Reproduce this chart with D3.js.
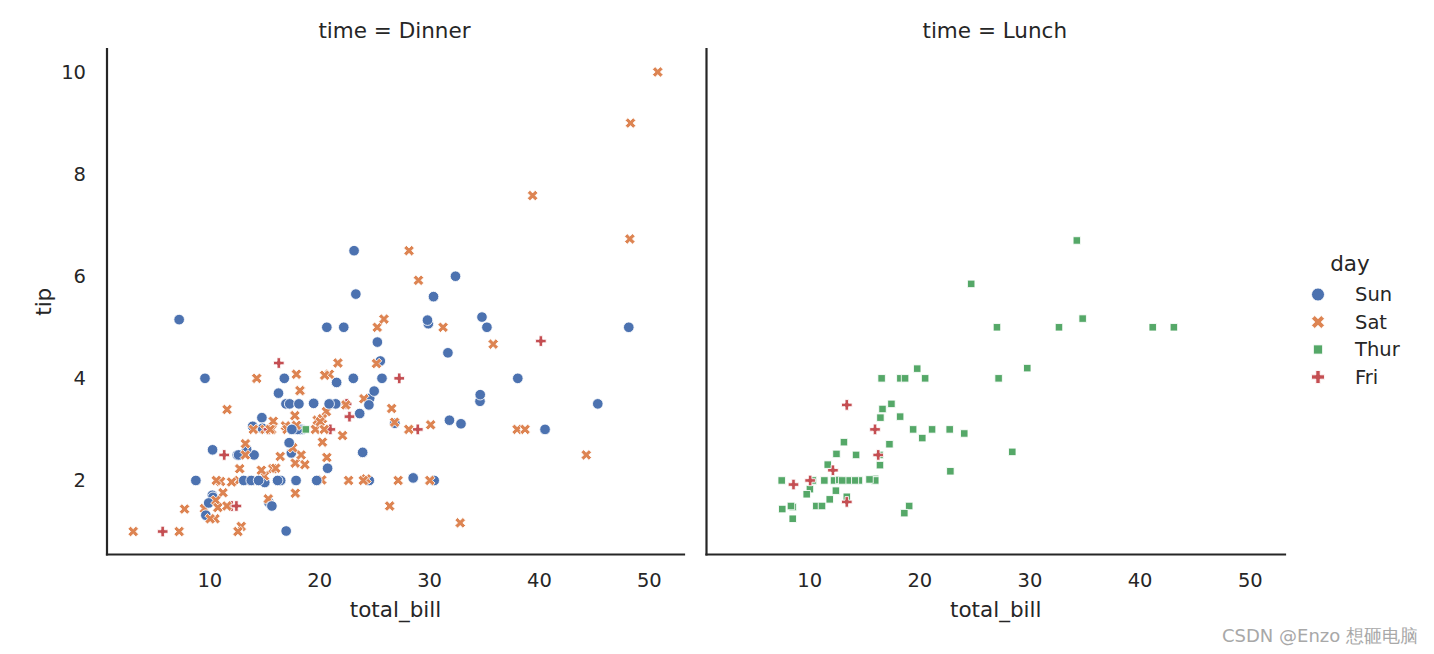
<!DOCTYPE html>
<html>
<head>
<meta charset="utf-8">
<script src="https://cdn.jsdelivr.net/npm/d3@7"></script>
<style>
  html, body { margin: 0; padding: 0; background: #fff; }
  svg { display: block; }
  text { font-family: "DejaVu Sans", sans-serif; fill: #262626; }
</style>
</head>
<body>
<script>
// ---------------- DATA (seaborn "tips": total_bill, tip, day) ----------------
const dayOrder = ["Sun", "Sat", "Thur", "Fri"];
const dayColors = ["#4c72b0", "#dd8452", "#55a868", "#c44e52"];
const dayMarkers = ["circle", "x", "square", "plus"];
const panelTimes = ["Dinner", "Lunch"];
const xTicks = [10, 20, 30, 40, 50];
const yTicks = [2, 4, 6, 8, 10];

const dinnerRows = [
  [16.99,1.01,"Sun"],[10.34,1.66,"Sun"],[21.01,3.5,"Sun"],[23.68,3.31,"Sun"],[24.59,3.61,"Sun"],
  [25.29,4.71,"Sun"],[8.77,2.0,"Sun"],[26.88,3.12,"Sun"],[15.04,1.96,"Sun"],[14.78,3.23,"Sun"],
  [10.27,1.71,"Sun"],[35.26,5.0,"Sun"],[15.42,1.57,"Sun"],[18.43,3.0,"Sun"],[14.83,3.02,"Sun"],
  [21.58,3.92,"Sun"],[10.33,1.67,"Sun"],[16.29,3.71,"Sun"],[16.97,3.5,"Sun"],
  [20.65,3.35,"Sat"],[17.92,4.08,"Sat"],[20.29,2.75,"Sat"],[15.77,2.23,"Sat"],[39.42,7.58,"Sat"],
  [19.82,3.18,"Sat"],[17.81,2.34,"Sat"],[13.37,2.0,"Sat"],[12.69,2.0,"Sat"],[21.7,4.3,"Sat"],
  [19.65,3.0,"Sat"],[9.55,1.45,"Sat"],[18.35,2.5,"Sat"],[15.06,3.0,"Sat"],[20.69,2.45,"Sat"],
  [17.78,3.27,"Sat"],[24.06,3.6,"Sat"],[16.31,2.0,"Sat"],[16.93,3.07,"Sat"],[18.69,2.31,"Sat"],
  [31.27,5.0,"Sat"],[16.04,2.24,"Sat"],
  [17.46,2.54,"Sun"],[13.94,3.06,"Sun"],[9.68,1.32,"Sun"],[30.4,5.6,"Sun"],[18.29,3.0,"Sun"],
  [22.23,5.0,"Sun"],[32.4,6.0,"Sun"],[28.55,2.05,"Sun"],[18.04,3.0,"Sun"],[12.54,2.5,"Sun"],
  [10.29,2.6,"Sun"],[34.81,5.2,"Sun"],[9.94,1.56,"Sun"],[25.56,4.34,"Sun"],[19.49,3.51,"Sun"],
  [38.01,3.0,"Sat"],[26.41,1.5,"Sat"],[11.24,1.76,"Sat"],[48.27,6.73,"Sat"],[20.29,3.21,"Sat"],
  [13.81,2.0,"Sat"],[11.02,1.98,"Sat"],[18.29,3.76,"Sat"],[17.59,2.64,"Sat"],[20.08,3.15,"Sat"],
  [16.45,2.47,"Sat"],[3.07,1.0,"Sat"],[20.23,2.01,"Sat"],[15.01,2.09,"Sat"],[12.02,1.97,"Sat"],
  [17.07,3.0,"Sat"],[26.86,3.14,"Sat"],[25.28,5.0,"Sat"],[14.73,2.2,"Sat"],[10.51,1.25,"Sat"],
  [17.92,3.08,"Sat"],
  [28.97,3.0,"Fri"],[22.49,3.5,"Fri"],[5.75,1.0,"Fri"],[16.32,4.3,"Fri"],[22.75,3.25,"Fri"],
  [40.17,4.73,"Fri"],[27.28,4.0,"Fri"],[12.03,1.5,"Fri"],[21.01,3.0,"Fri"],[12.46,1.5,"Fri"],
  [11.35,2.5,"Fri"],[15.38,3.0,"Fri"],
  [44.3,2.5,"Sat"],[22.42,3.48,"Sat"],[20.92,4.08,"Sat"],[15.36,1.64,"Sat"],[20.49,4.06,"Sat"],
  [25.21,4.29,"Sat"],[18.24,3.76,"Sat"],[14.31,4.0,"Sat"],[14.0,3.0,"Sat"],[7.25,1.0,"Sat"],
  [38.07,4.0,"Sun"],[23.95,2.55,"Sun"],[25.71,4.0,"Sun"],[17.31,3.5,"Sun"],[29.93,5.07,"Sun"],
  [14.07,2.5,"Sun"],[13.13,2.0,"Sun"],[17.26,2.74,"Sun"],[24.55,2.0,"Sun"],[19.77,2.0,"Sun"],
  [29.85,5.14,"Sun"],[48.17,5.0,"Sun"],[25.0,3.75,"Sun"],[13.39,2.61,"Sun"],[16.49,2.0,"Sun"],
  [21.5,3.5,"Sun"],[12.66,2.5,"Sun"],[16.21,2.0,"Sun"],[13.81,2.0,"Sun"],[17.51,3.0,"Sun"],
  [24.52,3.48,"Sun"],[20.76,2.24,"Sun"],[31.71,4.5,"Sun"],
  [10.59,1.61,"Sat"],[10.63,2.0,"Sat"],[50.81,10.0,"Sat"],[15.81,3.16,"Sat"],
  [7.25,5.15,"Sun"],[31.85,3.18,"Sun"],[16.82,4.0,"Sun"],[32.9,3.11,"Sun"],[17.89,2.0,"Sun"],
  [14.48,2.0,"Sun"],[9.6,4.0,"Sun"],[34.63,3.55,"Sun"],[34.65,3.68,"Sun"],[23.33,5.65,"Sun"],
  [45.35,3.5,"Sun"],[23.17,6.5,"Sun"],[40.55,3.0,"Sun"],[20.69,5.0,"Sun"],[20.9,3.5,"Sun"],
  [30.46,2.0,"Sun"],[18.15,3.5,"Sun"],[23.1,4.0,"Sun"],[15.69,1.5,"Sun"],
  [26.59,3.41,"Sat"],[38.73,3.0,"Sat"],[24.27,2.03,"Sat"],[12.76,2.23,"Sat"],[30.06,2.0,"Sat"],
  [25.89,5.16,"Sat"],[48.33,9.0,"Sat"],[13.27,2.5,"Sat"],[28.17,6.5,"Sat"],[12.9,1.1,"Sat"],
  [28.15,3.0,"Sat"],[11.59,1.5,"Sat"],[7.74,1.44,"Sat"],[30.14,3.09,"Sat"],
  [20.45,3.0,"Sat"],[13.28,2.72,"Sat"],[22.12,2.88,"Sat"],[24.01,2.0,"Sat"],[15.69,3.0,"Sat"],
  [11.61,3.39,"Sat"],[10.77,1.47,"Sat"],[15.53,3.0,"Sat"],[10.07,1.25,"Sat"],[12.6,1.0,"Sat"],
  [32.83,1.17,"Sat"],[35.83,4.67,"Sat"],[29.03,5.92,"Sat"],[27.18,2.0,"Sat"],[22.67,2.0,"Sat"],
  [17.82,1.75,"Sat"],
  [18.78,3.0,"Thur"]
];

const lunchRows = [
  [27.2,4.0,"Thur"],[22.76,3.0,"Thur"],[17.29,2.71,"Thur"],[19.44,3.0,"Thur"],[16.66,3.4,"Thur"],
  [10.07,1.83,"Thur"],[32.68,5.0,"Thur"],[15.98,2.03,"Thur"],[34.83,5.17,"Thur"],[13.03,2.0,"Thur"],
  [18.28,4.0,"Thur"],[24.71,5.85,"Thur"],[21.16,3.0,"Thur"],
  [10.65,1.5,"Thur"],[12.43,1.8,"Thur"],[24.08,2.92,"Thur"],[11.69,2.31,"Thur"],[13.42,1.68,"Thur"],
  [14.26,2.5,"Thur"],[15.95,2.0,"Thur"],[12.48,2.52,"Thur"],[29.8,4.2,"Thur"],[8.52,1.48,"Thur"],
  [14.52,2.0,"Thur"],[11.38,2.0,"Thur"],[22.82,2.18,"Thur"],[19.08,1.5,"Thur"],[20.27,2.83,"Thur"],
  [11.17,1.5,"Thur"],[12.26,2.0,"Thur"],[18.26,3.25,"Thur"],[8.51,1.25,"Thur"],[10.33,2.0,"Thur"],
  [14.15,2.0,"Thur"],[16.0,2.0,"Thur"],[13.16,2.75,"Thur"],[17.47,3.5,"Thur"],[34.3,6.7,"Thur"],
  [41.19,5.0,"Thur"],[27.05,5.0,"Thur"],[16.43,2.3,"Thur"],[8.35,1.5,"Thur"],[18.64,1.36,"Thur"],
  [11.87,1.63,"Thur"],[9.78,1.73,"Thur"],[7.51,2.0,"Thur"],
  [19.81,4.19,"Thur"],[28.44,2.56,"Thur"],[15.48,2.02,"Thur"],[16.58,4.0,"Thur"],[7.56,1.44,"Thur"],
  [10.34,2.0,"Thur"],[43.11,5.0,"Thur"],[13.0,2.0,"Thur"],[13.51,2.0,"Thur"],[18.71,4.0,"Thur"],
  [12.74,2.01,"Thur"],[13.0,2.0,"Thur"],[16.4,2.5,"Thur"],[20.53,4.0,"Thur"],[16.47,3.23,"Thur"],
  [12.16,2.2,"Fri"],[13.42,3.48,"Fri"],[8.58,1.92,"Fri"],[15.98,3.0,"Fri"],[13.42,1.58,"Fri"],
  [16.27,2.5,"Fri"],[10.09,2.0,"Fri"]
];

// ---------------- LAYOUT ----------------
const W = 1434, H = 654;
const panels = [
  { time: panelTimes[0], rows: dinnerRows, left: 107, right: 684, yLabels: true },
  { time: panelTimes[1], rows: lunchRows,  left: 706.5, right: 1285, yLabels: false }
];
const plotTop = 49, plotBottom = 554.5;
const ink = "#262626";
const tickFont = 19.5, labelFont = 21.5;
const MS = 10.6;      // marker size (px)
const LMS = 13;       // legend marker size

const allRows = dinnerRows.concat(lunchRows);
function padded(ext) { const r = ext[1] - ext[0]; return [ext[0] - 0.05 * r, ext[1] + 0.05 * r]; }
const xDom = padded(d3.extent(allRows, d => d[0]));
const yDom = padded(d3.extent(allRows, d => d[1]));

const color = d3.scaleOrdinal().domain(dayOrder).range(dayColors);
const markerOf = d3.scaleOrdinal().domain(dayOrder).range(dayMarkers);

function poly(pts, s) {
  return "M" + pts.map(p => (p[0] * s).toFixed(3) + "," + (p[1] * s).toFixed(3)).join("L") + "Z";
}
const xPts = [[-1,-2],[0,-1],[1,-2],[2,-1],[1,0],[2,1],[1,2],[0,1],[-1,2],[-2,1],[-1,0],[-2,-1]].map(p => [p[0]/4, p[1]/4]);
const plusPts = [[-1,-3],[1,-3],[1,-1],[3,-1],[3,1],[1,1],[1,3],[-1,3],[-1,1],[-3,1],[-3,-1],[-1,-1]].map(p => [p[0]/6, p[1]/6]);
const sqH = 0.5 / Math.SQRT2;
const sqPts = [[-sqH,-sqH],[sqH,-sqH],[sqH,sqH],[-sqH,sqH]];
function markerPath(kind, ms) {
  if (kind === "circle") { const r = ms / 2; return `M${r},0A${r},${r} 0 1,1 ${-r},0A${r},${r} 0 1,1 ${r},0Z`; }
  if (kind === "x") return poly(xPts, ms);
  if (kind === "plus") return poly(plusPts, ms);
  return poly(sqPts, ms);
}

const svg = d3.select("body").append("svg").attr("width", W).attr("height", H);
svg.append("rect").attr("width", W).attr("height", H).attr("fill", "#fff");

const y = d3.scaleLinear().domain(yDom).range([plotBottom, plotTop]);

panels.forEach(p => {
  const x = d3.scaleLinear().domain(xDom).range([p.left, p.right]);
  const g = svg.append("g");

  // points
  g.append("g").selectAll("path").data(p.rows).join("path")
    .attr("transform", d => `translate(${x(d[0])},${y(d[1])})`)
    .attr("d", d => markerPath(markerOf(d[2]), MS))
    .attr("fill", d => color(d[2]))
    .attr("stroke", "#fff").attr("stroke-width", 0.85);

  // x axis
  const xa = g.append("g").attr("transform", `translate(0,${plotBottom})`)
    .call(d3.axisBottom(x).tickValues(xTicks).tickSize(0).tickPadding(18.5).tickFormat(d3.format("d")));
  xa.select(".domain").remove();
  xa.selectAll("text").attr("font-size", tickFont).attr("font-family", "DejaVu Sans").attr("fill", ink);

  // y axis
  const ya = g.append("g").attr("transform", `translate(${p.left},0)`)
    .call(d3.axisLeft(y).tickValues(yTicks).tickSize(0).tickPadding(21).tickFormat(d3.format("d")));
  ya.select(".domain").remove();
  ya.selectAll("text").attr("font-size", tickFont).attr("font-family", "DejaVu Sans").attr("fill", ink);
  if (!p.yLabels) ya.selectAll("text").remove();

  // spines
  g.append("line").attr("x1", p.left).attr("x2", p.left).attr("y1", plotTop).attr("y2", plotBottom)
    .attr("stroke", ink).attr("stroke-width", 2.2).attr("stroke-linecap", "square");
  g.append("line").attr("x1", p.left).attr("x2", p.right).attr("y1", plotBottom).attr("y2", plotBottom)
    .attr("stroke", ink).attr("stroke-width", 2.2).attr("stroke-linecap", "square");

  // facet title
  g.append("text").attr("x", (p.left + p.right) / 2 - 1).attr("y", 38)
    .attr("text-anchor", "middle").attr("font-size", labelFont).text(`time = ${p.time}`);

  // x label
  g.append("text").attr("x", (p.left + p.right) / 2).attr("y", 617)
    .attr("text-anchor", "middle").attr("font-size", labelFont).text("total_bill");
});

// y label
svg.append("text").attr("transform", `translate(51,${(plotTop + plotBottom) / 2}) rotate(-90)`)
  .attr("text-anchor", "middle").attr("font-size", labelFont).text("tip");

// legend
const lg = svg.append("g");
lg.append("text").attr("x", 1350).attr("y", 271).attr("text-anchor", "middle")
  .attr("font-size", labelFont).text("day");
dayOrder.forEach((d, i) => {
  const cy = 294.5 + i * 27.5;
  lg.append("path").attr("transform", `translate(1318,${cy})`)
    .attr("d", markerPath(markerOf(d), LMS))
    .attr("fill", color(d)).attr("stroke", "#fff").attr("stroke-width", 0.85);
  lg.append("text").attr("x", 1355).attr("y", cy).attr("dy", "0.35em")
    .attr("font-size", tickFont).text(d);
});

// watermark
svg.append("text").attr("x", 1418).attr("y", 642).attr("text-anchor", "end")
  .attr("font-family", "'Noto Sans CJK SC', sans-serif").attr("font-size", 18)
  .style("fill", "#a8a8a8").text("CSDN @Enzo 想砸电脑");
</script>
</body>
</html>
